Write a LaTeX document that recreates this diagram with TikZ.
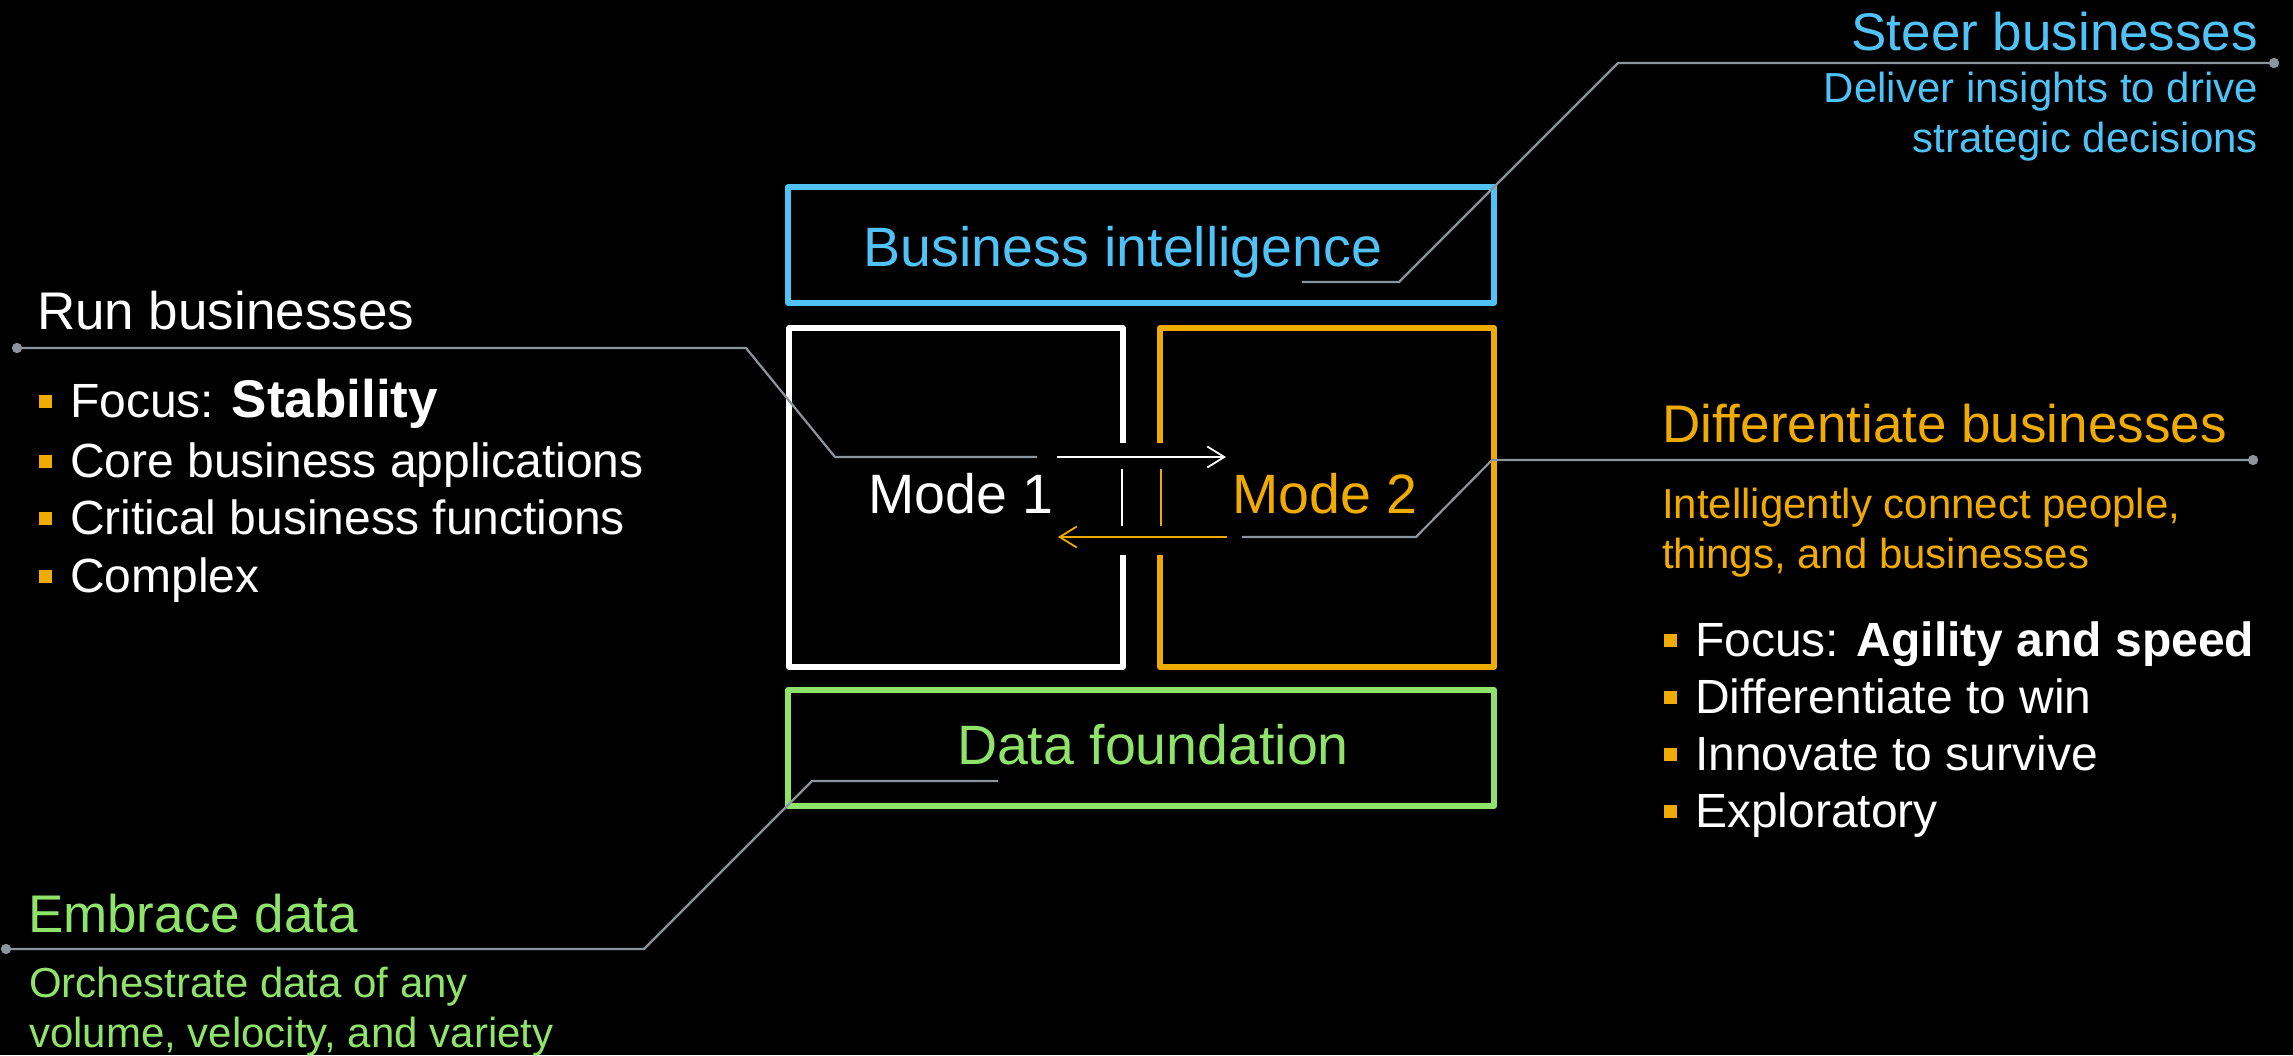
\documentclass[tikz,border=0pt]{standalone}
\usepackage{fontspec}
\setmainfont{Liberation Sans}
\usetikzlibrary{arrows.meta}
\definecolor{sapblue}{RGB}{79,194,247}
\definecolor{sapgold}{RGB}{240,171,0}
\definecolor{sapgreen}{RGB}{143,227,107}
\definecolor{leader}{RGB}{140,148,156}
\newcommand\hdfont{\fontsize{53}{60}\selectfont}
\newcommand\subfont{\fontsize{42}{50}\selectfont}
\newcommand\itemfont{\fontsize{48}{57}\selectfont}
\newcommand\lblfont{\fontsize{55.5}{64}\selectfont}
\newcommand\sqbul{\raisebox{9.5pt}{\textcolor{sapgold}{\rule{13pt}{13pt}}}\hspace{18pt}}
\begin{document}
\begin{tikzpicture}[x=1pt,y=-1pt,
  txt/.style={inner sep=0pt, outer sep=0pt},
  boxline/.style={line width=5.5pt, line join=round},
  leaderline/.style={draw=leader, line width=2.2pt, line join=round},
  enddot/.style={circle, fill=leader, inner sep=0pt, minimum size=10pt},
  modearrow/.style={line width=1.8pt, -{Straight Barb[length=17pt,width=21pt]}},
  tick/.style={line width=1.8pt}]
\fill[black] (0,0) rectangle (2293,1055);
\useasboundingbox (0,0) rectangle (2293,1055);

% boxes
\draw[boxline, sapblue] (788,187) rectangle (1494,303);
\draw[boxline, sapgreen] (788,690) rectangle (1494,806);
\draw[boxline, white] (1123,443) -- (1123,328) -- (789,328) -- (789,667) -- (1123,667) -- (1123,555);
\draw[boxline, sapgold] (1160,443) -- (1160,328) -- (1494,328) -- (1494,667) -- (1160,667) -- (1160,555);

% box labels
\node[txt, anchor=base, text=sapblue, font=\lblfont] (bi) at (1123,266) {Business intelligence};
\node[txt, anchor=base, text=sapgreen, font=\lblfont] (df) at (1153,764) {Data foundation};
\node[txt, anchor=base, text=white, font=\lblfont] (m1) at (961,513) {Mode 1};
\node[txt, anchor=base, text=sapgold, font=\lblfont] (m2) at (1325,513) {Mode 2};

% arrows between modes
\coordinate (wa1) at (1057,457); \coordinate (wa2) at (1226,457);
\coordinate (oa1) at (1227,537); \coordinate (oa2) at (1058,537);
\draw[modearrow, white] (wa1) -- (wa2);
\draw[modearrow, sapgold] (oa1) -- (oa2);
\coordinate (t1a) at (1122,469); \coordinate (t1b) at (1122,526);
\coordinate (t2a) at (1161,469); \coordinate (t2b) at (1161,526);
\draw[tick, white] (t1a) -- (t1b);
\draw[tick, sapgold] (t2a) -- (t2b);

% top right: steer
\node[txt, anchor=base east, text=sapblue, font=\hdfont] (steer) at (2258,50) {Steer businesses};
\node[txt, anchor=base east, text=sapblue, font=\subfont] (steer1) at (2258,102) {Deliver insights to drive};
\node[txt, anchor=base east, text=sapblue, font=\subfont] (steer2) at (2258,152) {strategic decisions};

% left: run
\node[txt, anchor=base west, text=white, font=\hdfont] (run) at (37,329) {Run businesses};
\node[txt, anchor=base west, text=white, font=\itemfont] (r1) at (39,417) {\sqbul Focus: {\fontsize{53}{60}\selectfont\bfseries Stability}};
\node[txt, anchor=base west, text=white, font=\itemfont] (r2) at (39,477) {\sqbul Core business applications};
\node[txt, anchor=base west, text=white, font=\itemfont] (r3) at (39,534) {\sqbul Critical business functions};
\node[txt, anchor=base west, text=white, font=\itemfont] (r4) at (39,592) {\sqbul Complex};

% right: differentiate
\node[txt, anchor=base west, text=sapgold, font=\hdfont] (diff) at (1662,442) {Differentiate businesses};
\node[txt, anchor=base west, text=sapgold, font=\subfont] (diff1) at (1662,518) {Intelligently connect people,};
\node[txt, anchor=base west, text=sapgold, font=\subfont] (diff2) at (1662,568) {things, and businesses};
\node[txt, anchor=base west, text=white, font=\itemfont] (d1) at (1664,656) {\sqbul Focus: \textbf{Agility and speed}};
\node[txt, anchor=base west, text=white, font=\itemfont] (d2) at (1664,713) {\sqbul Differentiate to win};
\node[txt, anchor=base west, text=white, font=\itemfont] (d3) at (1664,770) {\sqbul Innovate to survive};
\node[txt, anchor=base west, text=white, font=\itemfont] (d4) at (1664,827) {\sqbul Exploratory};

% bottom left: embrace
\node[txt, anchor=base west, text=sapgreen, font=\hdfont] (emb) at (28,932) {Embrace data};
\node[txt, anchor=base west, text=sapgreen, font=\subfont] (emb1) at (29,997) {Orchestrate data of any};
\node[txt, anchor=base west, text=sapgreen, font=\subfont] (emb2) at (29,1047) {volume, velocity, and variety};

% leader lines
\node[enddot] (dsteer) at (2274,63) {};
\node[enddot] (drun) at (17,348) {};
\node[enddot] (ddiff) at (2253,460) {};
\node[enddot] (demb) at (6,949) {};
\coordinate (bsteer1) at (1618,63); \coordinate (bsteer2) at (1399,282); \coordinate (esteer) at (1302,282);
\coordinate (brun1) at (746,348); \coordinate (brun2) at (835,457); \coordinate (erun) at (1037,457);
\coordinate (bdiff1) at (1492,460); \coordinate (bdiff2) at (1416,537); \coordinate (ediff) at (1242,537);
\coordinate (bemb1) at (644,949); \coordinate (bemb2) at (812,781); \coordinate (eemb) at (998,781);
\draw[leaderline] (dsteer.center) -- (bsteer1) -- (bsteer2) -- (esteer);
\draw[leaderline] (drun.center) -- (brun1) -- (brun2) -- (erun);
\draw[leaderline] (ddiff.center) -- (bdiff1) -- (bdiff2) -- (ediff);
\draw[leaderline] (demb.center) -- (bemb1) -- (bemb2) -- (eemb);
\node[enddot] at (dsteer) {};
\node[enddot] at (drun) {};
\node[enddot] at (ddiff) {};
\node[enddot] at (demb) {};
\end{tikzpicture}
\end{document}
